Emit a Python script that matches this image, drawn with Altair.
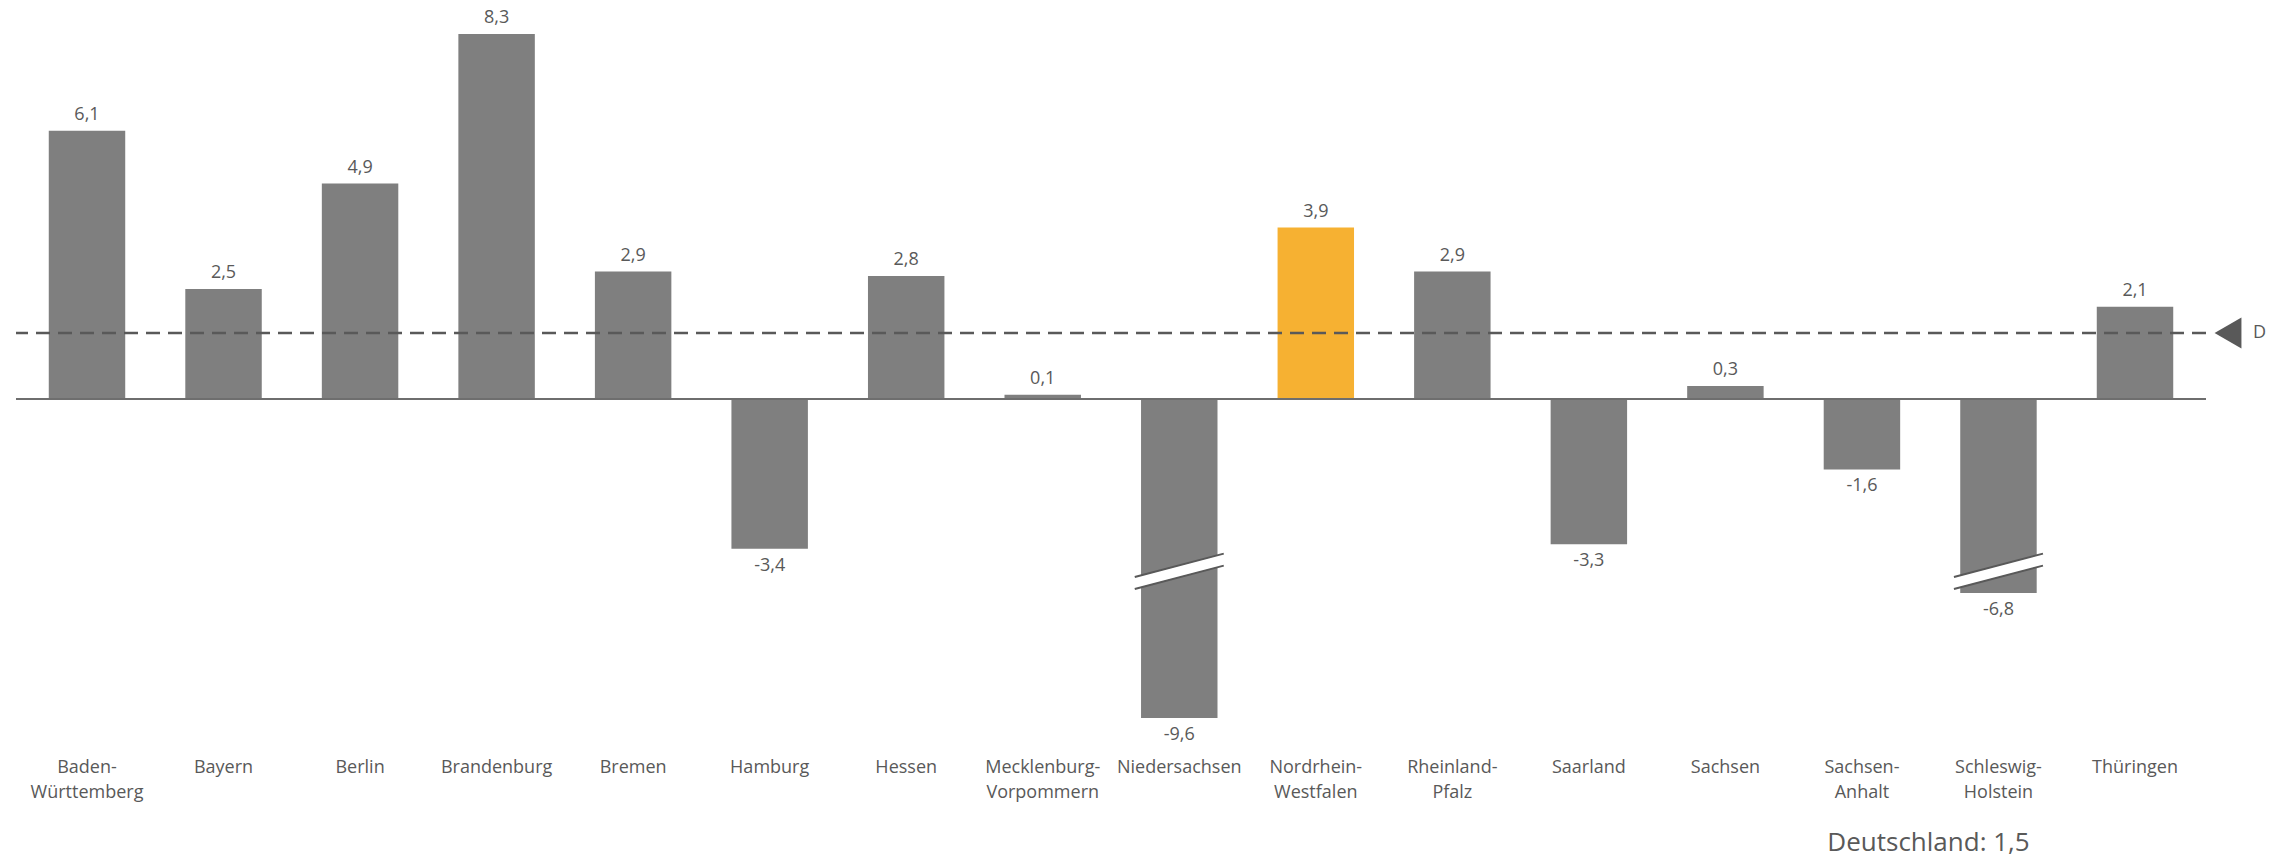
import altair as alt
import pandas as pd

# ---------------- data ----------------
categories = [
    "Baden-Württemberg", "Bayern", "Berlin", "Brandenburg", "Bremen",
    "Hamburg", "Hessen", "Mecklenburg-Vorpommern", "Niedersachsen",
    "Nordrhein-Westfalen", "Rheinland-Pfalz", "Saarland", "Sachsen",
    "Sachsen-Anhalt", "Schleswig-Holstein", "Thüringen",
]
values = [6.1, 2.5, 4.9, 8.3, 2.9, -3.4, 2.8, 0.1, -9.6, 3.9, 2.9, -3.3, 0.3, -1.6, -6.8, 2.1]
# bar length as drawn (two bars are shortened with an axis break)
shown = [6.1, 2.5, 4.9, 8.3, 2.9, -3.4, 2.8, 0.1, -7.25, 3.9, 2.9, -3.3, 0.3, -1.6, -4.41, 2.1]
highlight = "Nordrhein-Westfalen"
germany = 1.5

break_cats = ["Niedersachsen", "Schleswig-Holstein"]
break_left = [-4.18, -4.18]
break_right = [-3.65, -3.65]

# ---------------- styles ----------------
GREY = "#7F7F7F"
GOLD = "#F6B132"
TXT = "#595959"
FONT = "Open Sans"

df = pd.DataFrame({"cat": categories, "value": values, "shown": shown})
df["label"] = [f"{v:.1f}".replace(".", ",") for v in values]
gdf = pd.DataFrame({"g": [germany], "zero": [0.0]})
gdf["txt"] = "Deutschland: " + f"{germany:.1f}".replace(".", ",")
brk = pd.DataFrame({"cat": break_cats, "yl": break_left, "yr": break_right})

xscale = alt.Scale(domain=categories, paddingInner=0.44, paddingOuter=0.24)
yscale = alt.Scale(domain=[-7.5, 8.8], nice=False, zero=False)

label_expr = (
    "indexof(datum.label, '-') > 0 ? "
    "[substring(datum.label, 0, indexof(datum.label, '-') + 1), "
    "substring(datum.label, indexof(datum.label, '-') + 1)] : datum.label"
)

xenc = alt.X(
    "cat:N", scale=xscale,
    axis=alt.Axis(
        title=None, labelAngle=0, domain=False, ticks=False, tickSize=0,
        labelPadding=29, labelFontSize=18, labelFont=FONT, labelColor=TXT,
        labelLineHeight=25, labelLimit=0, labelExpr=label_expr,
        labelBaseline="top",
    ),
)

base = alt.Chart(df).encode(x=xenc)

bars = base.mark_bar().encode(
    y=alt.Y("shown:Q", scale=yscale, axis=None),
    color=alt.condition(alt.datum.cat == highlight, alt.value(GOLD), alt.value(GREY)),
)

pos_labels = base.transform_filter("datum.value >= 0").mark_text(
    baseline="middle", dy=-16, fontSize=18, font=FONT, color=TXT
).encode(y=alt.Y("shown:Q", scale=yscale), text="label:N")

neg_labels = base.transform_filter("datum.value < 0").mark_text(
    baseline="middle", dy=17, fontSize=18, font=FONT, color=TXT
).encode(y=alt.Y("shown:Q", scale=yscale), text="label:N")

brk_x = alt.X("cat:N", scale=xscale, bandPosition=0.5)
brk_x2 = alt.X2(field="cat", bandPosition=0.5)

brk_white = alt.Chart(brk).mark_rule(
    color="white", strokeWidth=11, xOffset=-44.5, x2Offset=44.5
).encode(x=brk_x, x2=brk_x2, y=alt.Y("yl:Q", scale=yscale), y2="yr:Q")

brk_up = alt.Chart(brk).mark_rule(
    color=TXT, strokeWidth=2, xOffset=-44.5, x2Offset=44.5, yOffset=-6, y2Offset=-6
).encode(x=brk_x, x2=brk_x2, y=alt.Y("yl:Q", scale=yscale), y2="yr:Q")

brk_dn = alt.Chart(brk).mark_rule(
    color=TXT, strokeWidth=2, xOffset=-44.5, x2Offset=44.5, yOffset=6, y2Offset=6
).encode(x=brk_x, x2=brk_x2, y=alt.Y("yl:Q", scale=yscale), y2="yr:Q")

zero_line = alt.Chart(gdf).mark_rule(color="#6E6E6E", strokeWidth=2).encode(
    y=alt.Y("zero:Q", scale=yscale)
)

avg_line = alt.Chart(gdf).mark_rule(
    color=TXT, strokeWidth=2.5, strokeDash=[14, 8]
).encode(y=alt.Y("g:Q", scale=yscale))

tri = alt.Chart(gdf).mark_point(
    shape="triangle-left", filled=True, size=961, color=TXT, opacity=1
).encode(x=alt.value(2212), y=alt.Y("g:Q", scale=yscale))

d_text = alt.Chart(gdf).mark_text(
    align="left", baseline="middle", fontSize=18, font=FONT, color=TXT, text="D"
).encode(x=alt.value(2237), y=alt.Y("g:Q", scale=yscale))

de_text = alt.Chart(gdf).mark_text(
    align="center", baseline="middle", fontSize=26, font=FONT, color=TXT
).encode(x=alt.value(1912.5), y=alt.value(831), text="txt:N")

chart = alt.layer(
    bars, brk_white, brk_up, brk_dn, zero_line, avg_line,
    pos_labels, neg_labels, tri, d_text, de_text,
).properties(
    width=2190, height=717,
    padding={"left": 6, "top": 0, "right": 5, "bottom": 5},
    background="white",
).configure_view(stroke=None).configure_axis(grid=False)

chart.save("out.html", embed_options={"renderer": "svg", "actions": False})
